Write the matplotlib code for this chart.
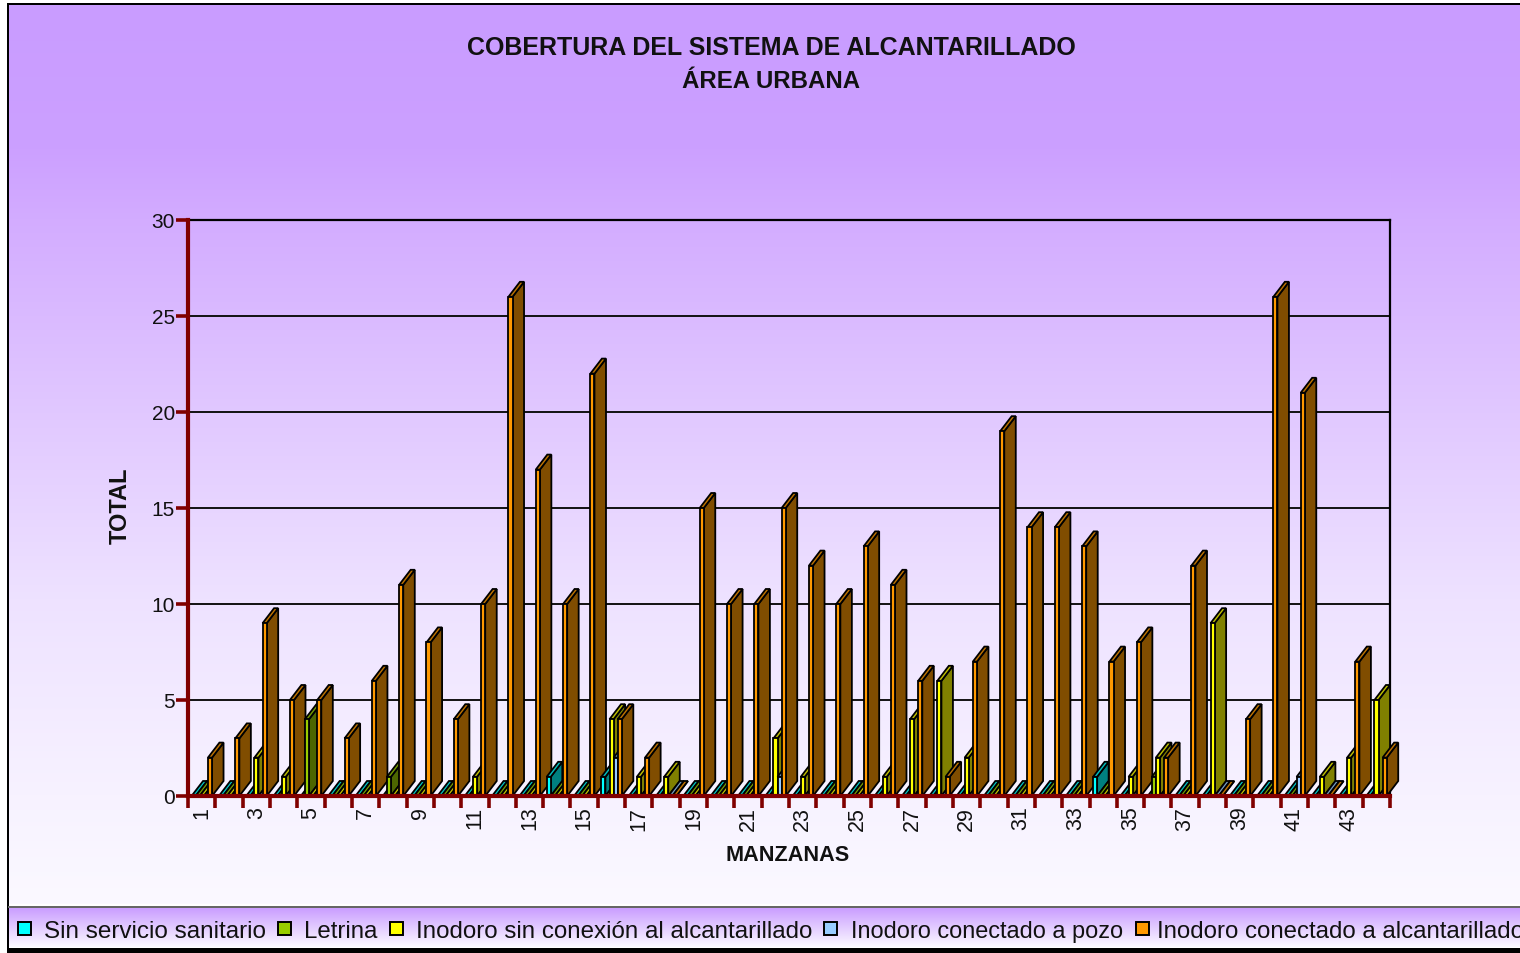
import numpy as np
import matplotlib
matplotlib.use("Agg")
import matplotlib.pyplot as plt
from matplotlib.patches import Rectangle, Polygon

plt.rcParams['font.family'] = ['Liberation Sans', 'DejaVu Sans']

W, H = 1520, 954
manzanas = list(range(1, 45))
sin_servicio = [0,0,0,0,0,0,0,0,0,0,0,0,0,1,0,1,0,0,0,0,0,0,0,0,0,0,0,0,0,0,0,0,0,1,0,0,0,0,0,0,0,0,0,0]
letrina      = [0,0,0,0,4,0,0,1,0,0,0,0,0,0,0,0,0,0,0,0,0,0,0,0,0,0,0,0,0,0,0,0,0,0,0,1,0,0,0,0,0,0,0,0]
inodoro_sin  = [0,0,2,1,0,0,0,0,0,0,1,0,0,0,0,4,1,1,0,0,0,3,1,0,0,1,4,6,2,0,0,0,0,0,1,2,0,9,0,0,0,1,2,5]
pozo         = [0,0,0,0,0,0,0,0,0,0,0,0,0,0,0,2,0,0,0,0,0,1,0,0,0,0,0,0,0,0,0,0,0,0,0,0,0,0,0,0,1,0,0,0]
alcantarillado = [2,3,9,5,5,3,6,11,8,4,10,26,17,10,22,4,2,0,15,10,10,15,12,10,13,11,6,1,7,19,14,14,13,7,8,2,12,0,4,26,21,0,7,2]
series = [sin_servicio, letrina, inodoro_sin, pozo, alcantarillado]
names = ["Sin servicio sanitario", "Letrina", "Inodoro sin conexión al alcantarillado",
         "Inodoro conectado a pozo", "Inodoro conectado a alcantarillado"]
front = ["#00FFFF", "#99CC00", "#FFFF00", "#99CCFF", "#FF9900"]
side = ["#008080", "#4D6600", "#808000", "#4D6680", "#804D00"]
top = ["#00BFBF", "#739900", "#BFBF00", "#7399BF", "#BF7300"]
yticks = [0, 5, 10, 15, 20, 25, 30]

fig = plt.figure(figsize=(W / 100, H / 100), dpi=100, facecolor="white")

# background layer in pixel coordinates
bg = fig.add_axes([0, 0, 1, 1], zorder=0)
bg.set_xlim(0, W); bg.set_ylim(H, 0); bg.axis("off")
ys = np.arange(5, 906)
stops = [5, 150, 220, 400, 600, 796, 905]
cols = np.array([[201,156,255],[204,160,255],[211,172,255],[224,198,255],[238,226,255],[247,242,255],[251,249,255]], float)
grad = np.stack([np.interp(ys, stops, cols[:, i]) for i in range(3)], axis=1)[:, None, :] / 255
bg.imshow(grad, extent=(8, W, 905, 5), aspect="auto", interpolation="bilinear")
ys2 = np.arange(908, 949)
g2 = np.stack([np.interp(ys2, [908, 948], [cols[0, i], cols[-1, i]]) for i in range(3)], axis=1)[:, None, :] / 255
bg.imshow(g2, extent=(9, W, 948, 908), aspect="auto", interpolation="bilinear")
bg.set_xlim(0, W); bg.set_ylim(H, 0)
bg.add_patch(Rectangle((7, 4), W - 7, 2, fc="black", ec="none"))
bg.add_patch(Rectangle((7, 4), 2, H - 4, fc="black", ec="none"))
bg.add_patch(Rectangle((8, 906.5), W - 8, 2, fc="#666666", ec="none"))
bg.add_patch(Rectangle((8, 949), W - 8, 5, fc="black", ec="none"))

# legend strip
swatches = [18, 278, 390, 824, 1136]
labels_x = [44, 304, 416, 851, 1157]
legend_sizes = [17.45, 17.3, 17.35, 16.95, 17.3]
for sx, tx, nm, c, fs in zip(swatches, labels_x, names, front, legend_sizes):
    bg.add_patch(Rectangle((sx, 922.5), 12.5, 13.5, fc=c, ec="black", lw=1.4))
    bg.text(tx, 932, nm, fontsize=fs, va="center", ha="left", color="#111111", clip_on=True)

# titles
bg.text(771.5, 48, "COBERTURA DEL SISTEMA DE ALCANTARILLADO", fontsize=18, fontweight="bold", ha="center", va="center", color="#111111")
bg.text(771.5, 82, "ÁREA URBANA", fontsize=17.3, fontweight="bold", ha="center", va="center", color="#111111")
bg.text(787.5, 856, "MANZANAS", fontsize=15.6, fontweight="bold", ha="center", va="center", color="#111111")
bg.text(120, 505.5, "TOTAL", fontsize=17, fontweight="bold", rotation=90, ha="center", va="center", color="#111111")

# plot
ax = fig.add_axes([188 / W, 1 - 797 / H, 1202 / W, 576 / H], zorder=1)
ax.patch.set_alpha(0)
ax.set_xlim(0, len(manzanas)); ax.set_ylim(0, 30)
ax.set_yticks(yticks)
ax.set_xticks(np.arange(len(manzanas) + 1))
ax.set_xticklabels([])
ax.set_xticks(np.arange(len(manzanas)) + 0.5, minor=True)
ax.set_xticklabels([str(m) if m % 2 else "" for m in manzanas], minor=True, rotation=90, fontsize=15.5, color="#111111")
ax.tick_params(axis="x", which="minor", length=0, pad=7)
ax.tick_params(axis="x", which="major", length=8.5, width=2.6, color="#800000")
ax.tick_params(axis="y", length=8.5, width=2.6, color="#800000", labelsize=15, pad=1, labelcolor="#111111")
for lab in ax.get_yticklabels():
    lab.set_zorder(20)
ax.grid(axis="y", color="#111111", lw=1.4, zorder=1)
ax.set_axisbelow(True)
for s in ("top", "right"):
    ax.spines[s].set_color("black"); ax.spines[s].set_linewidth(1.6); ax.spines[s].set_zorder(1.5)
for s in ("left", "bottom"):
    ax.spines[s].set_color("#800000"); ax.spines[s].set_linewidth(3.0); ax.spines[s].set_zorder(50)

slot_px = 1202 / len(manzanas)
bw = 0.15
start = 0.13
ddx = 11.5 / slot_px
ddy = 15 / (576 / 30)
z = 3.0
edge = dict(edgecolor="black", linewidth=1.3, joinstyle="miter")
for i in range(len(manzanas)):
    for k, vals in enumerate(series):
        v = vals[i]
        x0 = i + start + k * bw
        x1 = x0 + bw
        ax.add_patch(Polygon([(x1, 0), (x1 + ddx, ddy), (x1 + ddx, v + ddy), (x1, v)], closed=True, fc=side[k], zorder=z, clip_on=False, **edge))
        ax.add_patch(Polygon([(x0, v), (x0 + ddx, v + ddy), (x1 + ddx, v + ddy), (x1, v)], closed=True, fc=top[k], zorder=z + 0.001, clip_on=False, **edge))
        if v > 0:
            ax.bar(x0, v, width=bw, align="edge", color=front[k], zorder=z + 0.002, clip_on=False, **edge)
        z += 0.01

fig.savefig("out.png", dpi=100, facecolor="white")
